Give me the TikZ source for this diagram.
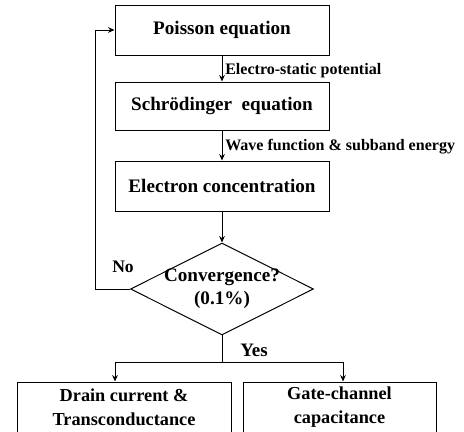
\documentclass[tikz,border=0pt]{standalone}
\usepackage{fontspec}
\setmainfont{Liberation Serif}
\usetikzlibrary{positioning,arrows.meta,shapes.geometric}

\begin{document}
\begin{tikzpicture}[
  >={Stealth[length=1.6mm,width=1.4mm]},
  stepbox/.style={draw,line width=0.7pt,minimum width=5.35cm,minimum height=1.25cm,font=\fontsize{13.6}{16.5}\selectfont\bfseries,align=center},
  test/.style={draw,diamond,line width=0.7pt,minimum width=4.575cm,minimum height=2.3cm,aspect=2,inner sep=-3pt,font=\fontsize{13.6}{16.5}\selectfont\bfseries,align=center},
  ar/.style={->,line width=0.7pt},
  ln/.style={line width=0.7pt},
  edgelabel/.style={font=\fontsize{11.4}{13}\selectfont\bfseries,inner sep=1pt},
  answer/.style={font=\fontsize{13.5}{15}\selectfont\bfseries,inner sep=1pt}
]
\useasboundingbox (0,0) rectangle (11.6,-10.8);

% main chain
\node[stepbox] (poisson) at (5.55,-0.75)  {Poisson equation};
\node[stepbox,minimum height=1.2cm] (schrod) at (5.55,-2.65) {Schr\"odinger\ \ equation};
\node[stepbox] (elec) at (5.55,-4.65) {Electron concentration};
\node[test] (conv) at (5.55,-7.225) {Convergence?\\(0.1\%)};

\draw[ar] (poisson) -- node[edgelabel,right=1pt,pos=0.6] {Electro-static potential} (schrod);
\draw[ar] (schrod) -- node[edgelabel,right=1pt,pos=0.55] {Wave function \& subband energy} (elec);
\draw[ar] (elec) -- (conv);

% loop back when not converged
\coordinate (back) at (2.375,-7.225);
\draw[ar] (conv.west) -- (back) |- (poisson.west);
\node[answer,font=\fontsize{12.5}{14}\selectfont\bfseries] (no) at (3.075,-6.675) {No};

% outputs
\node[stepbox,minimum height=1.25cm,font=\fontsize{13}{17}\selectfont\bfseries] (drain) at (3.1,-10.175) {Drain current \&\\Transconductance};
\node[stepbox,minimum width=4.825cm,minimum height=1.25cm,font=\fontsize{13}{17}\selectfont\bfseries] (gate) at (8.4875,-10.175) {Gate-channel\\capacitance};

\coordinate (split) at (5.55,-9.05);
\draw[ln] (conv.south) -- (split);
\draw[ar] (split) -| ([xshift=-0.225cm]drain.north);
\draw[ar] (split) -| ([xshift=0.0875cm]gate.north);
\node[answer] (yes) at (6.35,-8.75) {Yes};
\end{tikzpicture}
\end{document}
